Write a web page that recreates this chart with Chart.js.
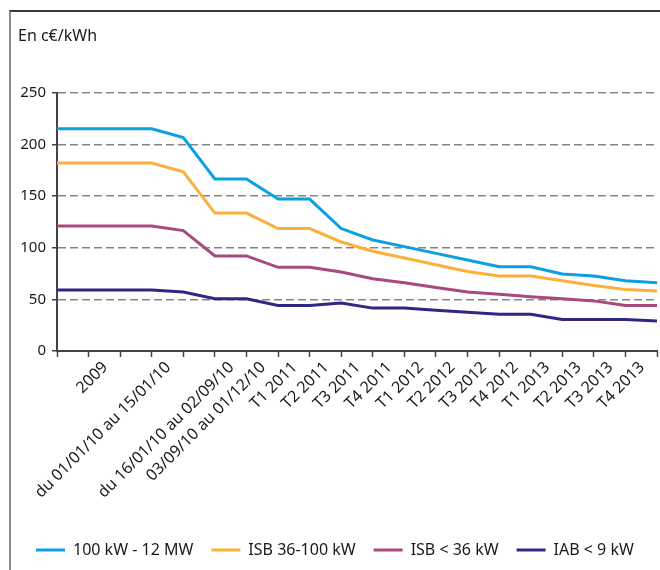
<!DOCTYPE html>
<html>
<head>
<meta charset="utf-8">
<script src="https://cdn.jsdelivr.net/npm/chart.js@4"></script>
<style>
  body { margin: 0; background: #fff; overflow: hidden; }
  #wrap { position: relative; width: 660px; height: 570px; }
  #frame { position: absolute; left: 9px; top: 10px; width: 660px; height: 570px;
           border-top: 2px solid #3a3a3a; border-left: 2px solid #8c8c8c; pointer-events: none; }
  canvas { position: absolute; left: 0; top: 0; }
</style>
</head>
<body>
<div id="wrap">
  <canvas id="tarifs" width="660" height="570"></canvas>
  <div id="frame"></div>
</div>
<script>
// periodes (certaines positions sans libellé)
const periods = ['', '', '2009', '', 'du 01/01/10 au 15/01/10', '', 'du 16/01/10 au 02/09/10',
  '03/09/10 au 01/12/10', 'T1 2011', 'T2 2011', 'T3 2011', 'T4 2011', 'T1 2012', 'T2 2012',
  'T3 2012', 'T4 2012', 'T1 2013', 'T2 2013', 'T3 2013', 'T4 2013'];

const seriesNames = ['100 kW - 12 MW', 'ISB 36-100 kW', 'ISB < 36 kW', 'IAB < 9 kW'];
const seriesColors = ['#0aa0e2', '#fbb03b', '#a94a7e', '#2e2784'];

const tarif100kW = [215, 215, 215, 215, 206.5, 166.5, 166.5, 147, 147, 118.5, 107.5, 101, 94.5, 88, 81.5, 81.5, 74.5, 72.5, 68, 66];
const tarifIsb36_100 = [182, 182, 182, 182, 173.5, 133.5, 133.5, 118.5, 118.5, 105.5, 96.5, 90, 83.5, 77, 72.5, 72.5, 68, 63.5, 59.5, 58];
const tarifIsb36 = [121, 121, 121, 121, 116.5, 92, 92, 81, 81, 76.5, 70, 66, 61.5, 57, 55, 52.5, 50.5, 48.5, 44, 44];
const tarifIab9 = [59, 59, 59, 59, 57, 50.5, 50.5, 44, 44, 46.5, 41.5, 41.5, 39.5, 37.5, 35.5, 35.5, 30.5, 30.5, 30.5, 29];

const yTicks = [0, 50, 100, 150, 200, 250];

Chart.defaults.font.family = '"Noto Sans", sans-serif';
Chart.defaults.color = '#1a1a1a';

const allValues = [tarif100kW, tarifIsb36_100, tarifIsb36, tarifIab9];
const datasets = allValues.map((vals, i) => ({
    label: seriesNames[i],
    data: vals,
    borderColor: seriesColors[i],
    backgroundColor: seriesColors[i],
    borderWidth: 3,
    pointRadius: 0,
    tension: 0,
    fill: false
}));

const ctx = document.getElementById('tarifs').getContext('2d');
new Chart(ctx, {
    type: 'line',
    data: { labels: periods, datasets: datasets },
    options: {
        responsive: false,
        animation: false,
        devicePixelRatio: 1,
        layout: { padding: { left: 18, right: 3, top: 0, bottom: 2 } },
        plugins: {
            tooltip: { enabled: false },
            title: {
                display: true,
                text: 'En c€/kWh',
                align: 'start',
                color: '#1a1a1a',
                font: { size: 16, weight: 'normal' },
                padding: { top: 27, bottom: 46.5 }
            },
            legend: {
                position: 'bottom',
                align: 'start',
                labels: {
                    boxWidth: 29,
                    boxHeight: 3,
                    padding: 18,
                    color: '#1a1a1a',
                    font: { size: 16 },
                    generateLabels: (chart) =>
                        Chart.defaults.plugins.legend.labels.generateLabels(chart)
                            .map(item => ({ ...item, lineWidth: 0 }))
                }
            }
        },
        scales: {
            x: {
                type: 'category',
                offset: false,
                grid: {
                    offset: false,
                    drawOnChartArea: false,
                    drawTicks: true,
                    tickLength: 6,
                    tickColor: '#444',
                    tickWidth: 1.5
                },
                border: { color: '#444', width: 2 },
                ticks: {
                    autoSkip: false,
                    minRotation: 45,
                    maxRotation: 45,
                    labelOffset: -15,
                    padding: 1,
                    color: '#1a1a1a',
                    font: { size: 16 }
                },
                afterFit: (axis) => {
                    axis.height = 173;
                    axis.paddingRight = 0;
                    axis.paddingLeft = 0;
                }
            },
            y: {
                min: 0,
                max: 250,
                afterBuildTicks: (axis) => { axis.ticks = yTicks.map(v => ({ value: v })); },
                grid: {
                    color: (c) => (c.tick && c.tick.value === 0) ? 'rgba(0,0,0,0)' : '#858585',
                    lineWidth: 1.5,
                    tickLength: 5,
                    tickColor: '#444',
                    tickWidth: 1.5
                },
                border: { color: '#444', width: 2, dash: [8, 4] },
                ticks: {
                    padding: 6,
                    color: '#1a1a1a',
                    font: { size: 15 }
                },
                afterFit: (axis) => { axis.width = 39; }
            }
        }
    }
});
</script>
</body>
</html>
